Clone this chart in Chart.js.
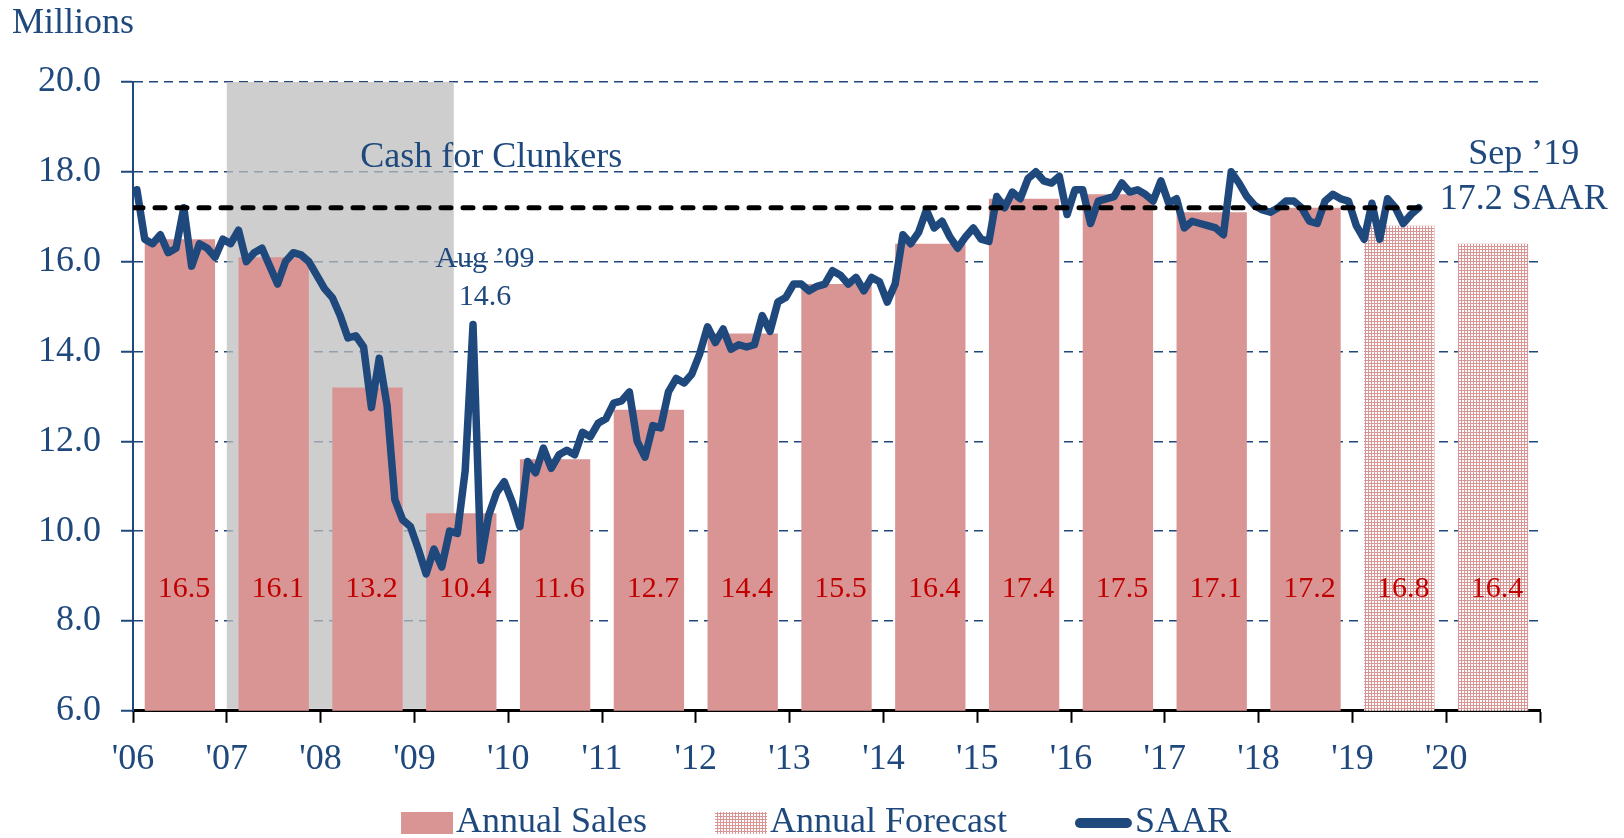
<!DOCTYPE html>
<html lang="en">
<head>
<meta charset="UTF-8" />
<title>Light Vehicle Sales</title>
<script src="https://cdn.jsdelivr.net/npm/chart.js@4.4.1/dist/chart.umd.min.js"></script>
<style>
  body { margin: 0; background: #fff; }
  canvas { display: block; }
</style>
</head>
<body>
<canvas id="salesChart" width="1624" height="838"></canvas>
<script>
// Light vehicle sales, millions of units
const years = [2006, 2007, 2008, 2009, 2010, 2011, 2012, 2013, 2014, 2015, 2016, 2017, 2018, 2019, 2020];
const yearLabels = ["'06", "'07", "'08", "'09", "'10", "'11", "'12", "'13", "'14", "'15", "'16", "'17", "'18", "'19", "'20"];
const annualSales = [16.5, 16.1, 13.2, 10.4, 11.6, 12.7, 14.4, 15.5, 16.4, 17.4, 17.5, 17.1, 17.2];
const forecastYears = [2019, 2020];
const annualForecast = [16.8, 16.4];
const yTicks = [6, 8, 10, 12, 14, 16, 18, 20];

// seasonally adjusted annual rate, monthly from Jan 2006 through Sep 2019
const saar = [
  17.6, 16.5, 16.4, 16.6, 16.2, 16.3, 17.2, 15.9, 16.4, 16.3, 16.1, 16.5,
  16.4, 16.7, 16.0, 16.2, 16.3, 15.9, 15.5, 16.0, 16.2, 16.15, 16.0, 15.7,
  15.4, 15.2, 14.8, 14.3, 14.35, 14.1, 12.75, 13.85, 12.8, 10.7, 10.25, 10.1,
  9.6, 9.05, 9.6, 9.2, 10.0, 9.95, 11.35, 14.6, 9.35, 10.35, 10.85, 11.1,
  10.65, 10.1, 11.55, 11.3, 11.85, 11.4, 11.7, 11.8, 11.7, 12.2, 12.1, 12.4,
  12.5, 12.85, 12.9, 13.1, 12.0, 11.65, 12.35, 12.3, 13.1, 13.4, 13.3, 13.5,
  13.95, 14.55, 14.2, 14.5, 14.05, 14.15, 14.1, 14.15, 14.8, 14.45, 15.1, 15.2,
  15.5, 15.5, 15.35, 15.45, 15.5, 15.8, 15.7, 15.5, 15.65, 15.35, 15.65, 15.55,
  15.1, 15.5, 16.6, 16.4, 16.65, 17.15, 16.75, 16.9, 16.55, 16.3, 16.55, 16.75,
  16.5, 16.45, 17.45, 17.2, 17.55, 17.4, 17.85, 18.0, 17.8, 17.75, 17.9, 17.05,
  17.6, 17.6, 16.85, 17.35, 17.4, 17.45, 17.75, 17.55, 17.6, 17.5, 17.35, 17.8,
  17.3, 17.4, 16.75, 16.9, 16.85, 16.8, 16.75, 16.6, 18.0, 17.75, 17.45, 17.25,
  17.15, 17.1, 17.2, 17.35, 17.35, 17.2, 16.9, 16.85, 17.35, 17.5, 17.4, 17.35,
  16.8, 16.5, 17.3, 16.5, 17.4, 17.2, 16.85, 17.05, 17.2
];
const saarStartYear = 2006;
const spikeMonth = { index: 43, label: "Aug \u201909" };   // Cash for Clunkers peak
const latestMonthLabel = "Sep \u201919";

// shaded period, in fractional years
const shadeFrom = 2007.0;
const shadeTo = 2009.42;

const BLUE = "#1f497d";
const SALES = "#d99594";
const FONT = '"Liberation Serif", "Times New Roman", serif';

function monthToYear(i) {
  return saarStartYear + (i + 0.5) / 12;
}

// small dotted tile for the forecast bars
function makeForecastPattern() {
  const c = document.createElement("canvas");
  c.width = 3;
  c.height = 3;
  const g = c.getContext("2d");
  g.fillStyle = SALES;
  g.fillRect(0, 0, 3, 3);
  g.fillStyle = "#ffffff";
  g.fillRect(1, 1, 2, 2);
  return g.createPattern(c, "repeat");
}
const forecastFill = makeForecastPattern();

const latest = saar[saar.length - 1];
const lastX = monthToYear(saar.length - 1);

const shadePlugin = {
  id: "shade",
  beforeDatasetsDraw(chart) {
    const { ctx, chartArea, scales } = chart;
    const x1 = scales.x.getPixelForValue(shadeFrom);
    const x2 = scales.x.getPixelForValue(shadeTo);
    ctx.save();
    ctx.fillStyle = "rgba(190, 190, 190, 0.75)";
    ctx.fillRect(x1, chartArea.top, x2 - x1, chartArea.bottom - chartArea.top - 2);
    ctx.restore();
  },
};

const labelsPlugin = {
  id: "labels",
  afterDatasetsDraw(chart) {
    const { ctx, scales } = chart;
    ctx.save();
    // values inside the bars
    ctx.font = "30px " + FONT;
    ctx.fillStyle = "#c00000";
    ctx.textAlign = "center";
    ctx.textBaseline = "middle";
    const yLabel = scales.y.getPixelForValue(8.7);
    [0, 1].forEach((di) => {
      const meta = chart.getDatasetMeta(di);
      const values = chart.data.datasets[di].data;
      meta.data.forEach((bar, i) => {
        ctx.fillText(values[i].y.toFixed(1), bar.x + 4, yLabel);
      });
    });

    ctx.fillStyle = BLUE;
    ctx.textBaseline = "alphabetic";

    // spike callout
    const saarMeta = chart.getDatasetMeta(2);
    const spike = saarMeta.data[spikeMonth.index];
    ctx.font = "30px " + FONT;
    ctx.fillText(spikeMonth.label, spike.x + 12, spike.y - 58);
    ctx.fillText(saar[spikeMonth.index].toFixed(1), spike.x + 12, spike.y - 20);

    // latest reading
    const last = saarMeta.data[saarMeta.data.length - 1];
    ctx.font = "36px " + FONT;
    ctx.fillText(latestMonthLabel, last.x + 105, last.y - 44);
    ctx.fillText(latest.toFixed(1) + " SAAR", last.x + 105, last.y + 1);

    // program label
    ctx.fillText("Cash for Clunkers", scales.x.getPixelForValue(2009.82), scales.y.getPixelForValue(18.1));
    ctx.restore();
  },
  afterDraw(chart) {
    const { ctx } = chart;
    ctx.save();
    ctx.font = "36px " + FONT;
    ctx.fillStyle = BLUE;
    ctx.textAlign = "left";
    ctx.textBaseline = "alphabetic";
    ctx.fillText("Millions", 12, 33);

    // legend row
    const items = chart.data.datasets.filter((d) => d.inLegend);
    const widths = items.map((d) => (d.type === "line" ? 57 : 52) + 3 + ctx.measureText(d.label).width);
    const gap = 68;
    const total = widths.reduce((a, b) => a + b, 0) + gap * (items.length - 1);
    let x = chart.width / 2 - total / 2 + 4;
    const baseline = 832;
    items.forEach((d, i) => {
      if (d.type === "line") {
        ctx.strokeStyle = d.borderColor;
        ctx.lineWidth = 10;
        ctx.lineCap = "round";
        ctx.beginPath();
        ctx.moveTo(x + 5, 823);
        ctx.lineTo(x + 52, 823);
        ctx.stroke();
        ctx.fillText(d.label, x + 60, baseline);
      } else {
        ctx.fillStyle = d.backgroundColor;
        ctx.fillRect(x, 812, 52, 22);
        ctx.fillStyle = BLUE;
        ctx.fillText(d.label, x + 55, baseline);
      }
      x += widths[i] + gap;
    });
    ctx.restore();
  },
};

new Chart(document.getElementById("salesChart"), {
  data: {
    datasets: [
      {
        type: "bar",
        label: "Annual Sales",
        inLegend: true,
        data: annualSales.map((v, i) => ({ x: years[i] + 0.5, y: v })),
        backgroundColor: SALES,
        grouped: false,
        barPercentage: 0.75,
        categoryPercentage: 1,
        order: 3,
      },
      {
        type: "bar",
        label: "Annual Forecast",
        inLegend: true,
        data: annualForecast.map((v, i) => ({ x: forecastYears[i] + 0.5, y: v })),
        backgroundColor: forecastFill,
        grouped: false,
        barPercentage: 0.75,
        categoryPercentage: 1,
        order: 2,
      },
      {
        type: "line",
        label: "SAAR",
        inLegend: true,
        data: saar.map((v, i) => ({ x: monthToYear(i), y: v })),
        borderColor: BLUE,
        borderWidth: 7.5,
        borderJoinStyle: "round",
        borderCapStyle: "round",
        pointRadius: 0,
        tension: 0,
        order: 1,
      },
      {
        type: "line",
        label: "Latest level",
        data: [
          { x: saarStartYear, y: latest },
          { x: lastX, y: latest },
        ],
        borderColor: "#000",
        borderWidth: 5,
        borderCapStyle: "round",
        borderDash: [10, 12],
        pointRadius: 0,
        order: 0,
      },
    ],
  },
  options: {
    responsive: false,
    animation: false,
    layout: { padding: { top: 82, left: 18, right: 84, bottom: 42 } },
    plugins: {
      legend: { display: false },
      tooltip: { enabled: false },
    },
    scales: {
      x: {
        type: "linear",
        offset: false,
        min: 2006,
        max: 2021,
        afterBuildTicks: (s) => {
          s.ticks = years.concat([2021]).map((v) => ({ value: v }));
        },
        ticks: {
          autoSkip: false,
          maxRotation: 0,
          padding: 15,
          color: BLUE,
          font: { family: FONT, size: 36 },
          callback: (v, i) => yearLabels[i] || "",
        },
        grid: {
          offset: false,
          drawOnChartArea: false,
          drawTicks: true,
          tickLength: 12,
          tickColor: "#000",
          tickWidth: 2,
        },
        border: { color: "#000", width: 3 },
      },
      y: {
        min: 6,
        max: 20,
        afterBuildTicks: (s) => {
          s.ticks = yTicks.map((v) => ({ value: v }));
        },
        ticks: {
          padding: 20,
          color: BLUE,
          font: { family: FONT, size: 36 },
          callback: (v) => v.toFixed(1),
        },
        grid: {
          color: BLUE,
          lineWidth: 1.5,
          tickLength: 12,
          tickColor: BLUE,
          tickWidth: 2,
        },
        border: { color: BLUE, width: 2, dash: [9, 6] },
      },
    },
  },
  plugins: [shadePlugin, labelsPlugin],
});
</script>
</body>
</html>
